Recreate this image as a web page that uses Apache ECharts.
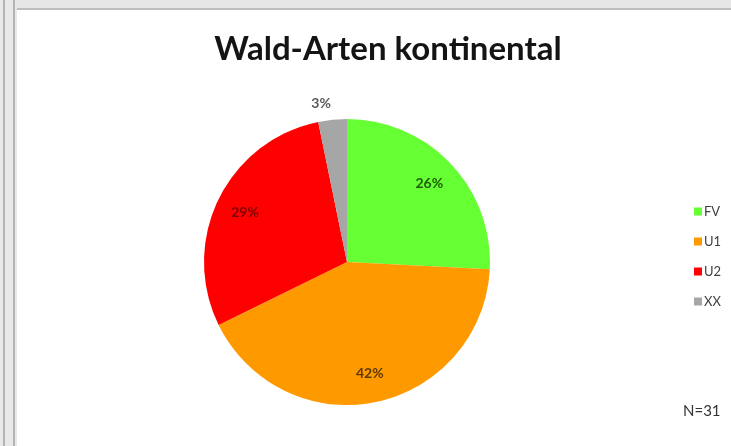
<!DOCTYPE html>
<html>
<head>
<meta charset="utf-8">
<script src="https://cdn.jsdelivr.net/npm/echarts@6/dist/echarts.min.js"></script>
<style>
  html, body { margin: 0; padding: 0; background: #fff; }
  #chart { width: 731px; height: 446px; }
</style>
</head>
<body>
<div id="chart"></div>
<script>
// Wald-Arten kontinental, N=31
const categories = ['FV', 'U1', 'U2', 'XX']
const counts = [8, 13, 9, 1]
const sliceColors = ['#66ff33', '#ff9900', '#ff0000', '#a6a6a6']
const labelColors = ['#1f5c0a', '#5c3a00', '#7a0000', '#595959']
const total = counts.reduce((a, b) => a + b, 0)

const center = [347, 262]
const radius = 143

const chart = echarts.init(document.getElementById('chart'), null, { renderer: 'canvas' })

// full pie, no labels
const pieData = categories.map((name, i) => ({
  name,
  value: counts[i],
  itemStyle: { color: sliceColors[i] }
}))

// transparent ring only for label placement (Excel puts them further out)
const labelData = categories.map((name, i) => {
  let item = {
    name,
    value: counts[i],
    itemStyle: { color: 'rgba(0,0,0,0)' },
    label: { color: labelColors[i] }
  }
  if (name === 'XX') { // small slice -> label outside
    item.label = {
      position: 'outside',
      color: labelColors[i],
      distanceToLabelLine: 0
    }
    item.labelLine = { show: false, length: 16, length2: 0 }
  }
  return item
})

chart.setOption({
  animation: false,
  title: {
    text: 'Wald-Arten kontinental',
    left: 383,
    textAlign: 'center',
    top: 28,
    textStyle: {
      fontFamily: 'Lato',
      fontWeight: 'bold',
      fontSize: 33,
      color: '#141414'
    }
  },
  legend: {
    orient: 'vertical',
    left: 689,
    top: 200,
    itemWidth: 8,
    itemHeight: 8,
    itemGap: 17,
    icon: 'rect',
    data: categories,
    textStyle: {
      fontFamily: 'Lato',
      fontSize: 13,
      color: '#404040',
      padding: [0, 0, 0, -3]
    }
  },
  graphic: [
    // window frame around the chart
    { type: 'rect', shape: { x: 0, y: 0, width: 731, height: 8 }, style: { fill: '#e6e6e6' }, silent: true },
    { type: 'rect', shape: { x: 0, y: 8, width: 731, height: 2 }, style: { fill: '#bdbdbd' }, silent: true },
    { type: 'rect', shape: { x: 0, y: 0, width: 17, height: 446 }, style: { fill: '#e8e8e8' }, silent: true },
    { type: 'rect', shape: { x: 3, y: 0, width: 2, height: 446 }, style: { fill: '#b3b3b3' }, silent: true },
    { type: 'rect', shape: { x: 13, y: 0, width: 2, height: 446 }, style: { fill: '#b3b3b3' }, silent: true },
    {
      type: 'text',
      left: 683,
      top: 404,
      style: {
        text: 'N=' + total,
        font: '15px Lato',
        fill: '#333333'
      }
    }
  ],
  series: [
    {
      type: 'pie',
      center: center,
      radius: radius,
      startAngle: 90,
      clockwise: true,
      silent: true,
      label: { show: false },
      labelLine: { show: false },
      itemStyle: { borderWidth: 0 },
      data: pieData
    },
    {
      type: 'pie',
      center: center,
      radius: [78, radius],
      startAngle: 90,
      clockwise: true,
      silent: true,
      itemStyle: { borderWidth: 0 },
      label: {
        show: true,
        position: 'inside',
        fontFamily: 'Lato',
        fontWeight: 'bold',
        fontSize: 14,
        formatter: p => Math.round(p.value / total * 100) + '%'
      },
      labelLine: { show: false },
      data: labelData
    }
  ]
})
</script>
</body>
</html>
